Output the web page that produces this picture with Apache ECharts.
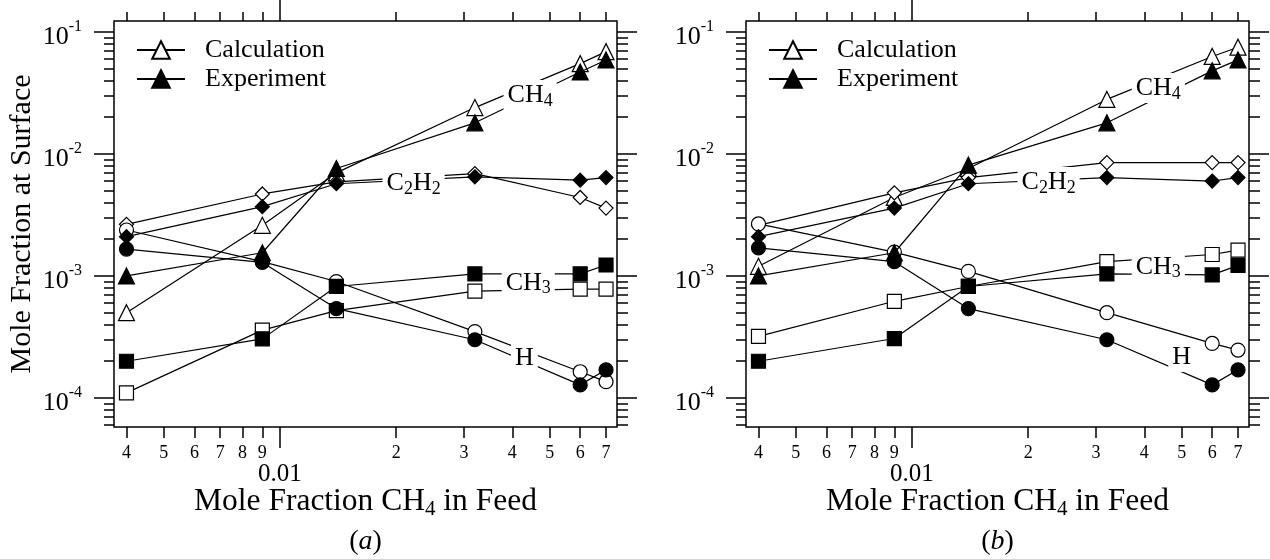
<!DOCTYPE html>
<html>
<head>
<meta charset="utf-8">
<title>Mole fraction at surface vs CH4 in feed</title>
<script src="https://cdn.jsdelivr.net/npm/echarts@6/dist/echarts.min.js"></script>
<style>
  html, body { margin: 0; padding: 0; background: #fff; }
  #main { width: 1270px; height: 559px; }
</style>
</head>
<body>
<div id="main"></div>
<script>
// mole fraction CH4 in feed (same runs in both panels)
const feedCH4 = [0.004, 0.009, 0.014, 0.032, 0.06, 0.07];

// panel (a)
const aCalcCH4  = [5.0e-4, 2.6e-3, 7.0e-3, 0.024, 0.055, 0.069];
const aExpCH4   = [1.0e-3, 1.55e-3, 7.6e-3, 0.018, 0.047, 0.059];
const aCalcC2H2 = [2.65e-3, 4.7e-3, 5.9e-3, 6.9e-3, 4.4e-3, 3.6e-3];
const aExpC2H2  = [2.1e-3, 3.7e-3, 5.7e-3, 6.5e-3, 6.1e-3, 6.4e-3];
const aCalcCH3  = [1.1e-4, 3.6e-4, 5.2e-4, 7.5e-4, 7.8e-4, 7.8e-4];
const aExpCH3   = [2.0e-4, 3.05e-4, 8.2e-4, 1.04e-3, 1.04e-3, 1.23e-3];
const aCalcH    = [2.38e-3, 1.31e-3, 9.0e-4, 3.5e-4, 1.64e-4, 1.36e-4];
const aExpH     = [1.66e-3, 1.29e-3, 5.4e-4, 3.0e-4, 1.28e-4, 1.7e-4];

// panel (b)
const bCalcCH4  = [1.2e-3, 4.4e-3, 7.6e-3, 0.028, 0.063, 0.075];
const bExpCH4   = [1.0e-3, 1.55e-3, 8.1e-3, 0.018, 0.048, 0.059];
const bCalcC2H2 = [2.6e-3, 4.8e-3, 6.4e-3, 8.5e-3, 8.5e-3, 8.5e-3];
const bExpC2H2  = [2.1e-3, 3.6e-3, 5.7e-3, 6.4e-3, 6.0e-3, 6.4e-3];
const bCalcCH3  = [3.2e-4, 6.2e-4, 8.2e-4, 1.31e-3, 1.5e-3, 1.63e-3];
const bExpCH3   = [2.0e-4, 3.07e-4, 8.2e-4, 1.04e-3, 1.02e-3, 1.22e-3];
const bCalcH    = [2.67e-3, 1.57e-3, 1.09e-3, 5.0e-4, 2.8e-4, 2.47e-4];
const bExpH     = [1.7e-3, 1.31e-3, 5.4e-4, 3.0e-4, 1.28e-4, 1.7e-4];

// species labels written on the plot, anchored in data space
const speciesLabels = ['CH{s|4}', 'C{s|2}H{s|2}', 'CH{s|3}', 'H'];
const aLabelX = [0.0445, 0.0222, 0.044, 0.043];
const aLabelY = [0.0305, 5.8e-3, 8.8e-4, 2.1e-4];
const bLabelX = [0.0435, 0.0226, 0.0435, 0.050];
const bLabelY = [0.0348, 5.9e-3, 1.19e-3, 2.17e-4];

// axes (log scales)
const xRange = [0.003713, 0.07474];
const yRange = [5.78e-5, 0.123];
const xMinorTicks  = [0.004, 0.005, 0.006, 0.007, 0.008, 0.009, 0.02, 0.03, 0.04, 0.05, 0.06, 0.07];
const xMinorLabels = ['4', '5', '6', '7', '8', '9', '2', '3', '4', '5', '6', '7'];
const xMajorTicks  = [0.01];
const xMajorLabels = ['0.01'];
const yMajorTicks  = [1e-4, 1e-3, 1e-2, 1e-1];
const yMajorLabels = ['-4', '-3', '-2', '-1'];
const yMinorTicks  = [6e-5, 7e-5, 8e-5, 9e-5,
  2e-4, 3e-4, 4e-4, 5e-4, 6e-4, 7e-4, 8e-4, 9e-4,
  2e-3, 3e-3, 4e-3, 5e-3, 6e-3, 7e-3, 8e-3, 9e-3,
  2e-2, 3e-2, 4e-2, 5e-2, 6e-2, 7e-2, 8e-2, 9e-2];

const FONT = 'Liberation Serif';
const lg = v => Math.log10(v);
const labelFor = (v, ticks, labels) => {
  const i = ticks.findIndex(t => Math.abs(lg(t) - v) < 1e-6);
  return i < 0 ? '' : labels[i];
};

const grids = [
  { left: 114, right: 653, top: 21, bottom: 132 },
  { left: 746, right: 21, top: 21, bottom: 132 }
];

const tickStyle = { color: '#000', width: 1.5 };

function makeXAxes(g) {
  const base = {
    gridIndex: g, type: 'value', min: lg(xRange[0]), max: lg(xRange[1]),
    splitLine: { show: false }, axisLine: { show: false, onZero: false }
  };
  return [
    Object.assign({}, base, {
      position: 'bottom',
      axisTick: { customValues: xMinorTicks.map(lg), length: 11, lineStyle: tickStyle },
      axisLabel: {
        customValues: xMinorTicks.map(lg), margin: 17,
        formatter: v => labelFor(v, xMinorTicks, xMinorLabels),
        fontFamily: FONT, fontSize: 18, color: '#000'
      },
      name: '{m|Mole Fraction CH}{s|4}{m| in Feed}',
      nameLocation: 'middle', nameGap: 57,
      nameTextStyle: {
        rich: {
          m: { fontFamily: FONT, fontSize: 31.5, lineHeight: 36, color: '#000' },
          s: { fontFamily: FONT, fontSize: 21, lineHeight: 20, verticalAlign: 'bottom', color: '#000' }
        }
      }
    }),
    Object.assign({}, base, {
      position: 'bottom',
      axisTick: { customValues: xMajorTicks.map(lg), length: 21, lineStyle: tickStyle },
      axisLabel: {
        customValues: xMajorTicks.map(lg), margin: 35,
        formatter: v => labelFor(v, xMajorTicks, xMajorLabels),
        fontFamily: FONT, fontSize: 25, color: '#000'
      }
    }),
    Object.assign({}, base, {
      position: 'top',
      axisTick: { customValues: xMinorTicks.map(lg), length: 9, lineStyle: tickStyle },
      axisLabel: { show: false }
    }),
    Object.assign({}, base, {
      position: 'top',
      axisTick: { customValues: xMajorTicks.map(lg), length: 21, lineStyle: tickStyle },
      axisLabel: { show: false }
    })
  ];
}

function makeYAxes(g) {
  const base = {
    gridIndex: g, type: 'value', min: lg(yRange[0]), max: lg(yRange[1]),
    splitLine: { show: false }, axisLine: { show: false, onZero: false }
  };
  const left = Object.assign({}, base, {
    position: 'left',
    axisTick: { customValues: yMajorTicks.map(lg), length: 20, lineStyle: tickStyle },
    axisLabel: {
      customValues: yMajorTicks.map(lg), margin: 32, padding: [10, 0, 0, 0],
      formatter: v => '{b|10}{e|' + labelFor(v, yMajorTicks, yMajorLabels) + '}',
      rich: {
        b: { fontFamily: FONT, fontSize: 26, lineHeight: 36, color: '#000' },
        e: { fontFamily: FONT, fontSize: 16, lineHeight: 16, verticalAlign: 'top', color: '#000' }
      }
    }
  });
  if (g === 0) {
    Object.assign(left, {
      name: 'Mole Fraction at Surface', nameLocation: 'middle', nameGap: 77,
      nameTextStyle: { fontFamily: FONT, fontSize: 30, color: '#000' }
    });
  }
  return [
    left,
    Object.assign({}, base, {
      position: 'left',
      axisTick: { customValues: yMinorTicks.map(lg), length: 10, lineStyle: tickStyle },
      axisLabel: { show: false }
    }),
    Object.assign({}, base, {
      position: 'right',
      axisTick: { customValues: yMajorTicks.map(lg), length: 20, lineStyle: tickStyle },
      axisLabel: { show: false }
    }),
    Object.assign({}, base, {
      position: 'right',
      axisTick: { customValues: yMinorTicks.map(lg), length: 11, lineStyle: tickStyle },
      axisLabel: { show: false }
    })
  ];
}

function curve(g, name, values, symbol, filled, size) {
  return {
    type: 'line', name: name, xAxisIndex: 4 * g, yAxisIndex: 4 * g,
    data: feedCH4.map((x, i) => [lg(x), lg(values[i])]),
    symbol: symbol, symbolSize: size, showSymbol: true,
    lineStyle: { color: '#000', width: 1.2 },
    itemStyle: { color: filled ? '#000' : '#fff', borderColor: '#000', borderWidth: 1.2 },
    emphasis: { disabled: true },
    z: filled ? 3 : 2
  };
}

const speciesRich = {
  m: { fontFamily: FONT, fontSize: 26, lineHeight: 30, color: '#000', textBorderWidth: 0 },
  s: { fontFamily: FONT, fontSize: 18, lineHeight: 22, verticalAlign: 'bottom', color: '#000', textBorderWidth: 0 }
};

function speciesText(g, xs, ys) {
  return {
    type: 'scatter', xAxisIndex: 4 * g, yAxisIndex: 4 * g,
    data: xs.map((x, i) => [lg(x), lg(ys[i])]),
    symbolSize: 2, itemStyle: { color: 'transparent' }, z: 10, silent: true,
    label: {
      show: true, position: 'inside', color: '#000', textBorderWidth: 0, opacity: 1,
      backgroundColor: '#fff', padding: [0, 4],
      formatter: p => '{m|' + speciesLabels[p.dataIndex].replace(/\{s\|(\d)\}/g, '}{s|$1}{m|') + '}',
      rich: speciesRich
    }
  };
}

function panelSeries(g, d) {
  return [
    curve(g, g === 0 ? 'Calculation' : 'Calc CH4 (b)', d.calcCH4, 'triangle', false, 16),
    curve(g, g === 0 ? 'Experiment' : 'Exp CH4 (b)', d.expCH4, 'triangle', true, 16),
    curve(g, 'Calc C2H2 ' + g, d.calcC2H2, 'diamond', false, 14),
    curve(g, 'Exp C2H2 ' + g, d.expC2H2, 'diamond', true, 14),
    curve(g, 'Calc CH3 ' + g, d.calcCH3, 'rect', false, 14),
    curve(g, 'Exp CH3 ' + g, d.expCH3, 'rect', true, 14),
    curve(g, 'Calc H ' + g, d.calcH, 'circle', false, 14),
    curve(g, 'Exp H ' + g, d.expH, 'circle', true, 14),
    speciesText(g, d.lx, d.ly)
  ];
}

const series = panelSeries(0, {
  calcCH4: aCalcCH4, expCH4: aExpCH4, calcC2H2: aCalcC2H2, expC2H2: aExpC2H2,
  calcCH3: aCalcCH3, expCH3: aExpCH3, calcH: aCalcH, expH: aExpH, lx: aLabelX, ly: aLabelY
}).concat(panelSeries(1, {
  calcCH4: bCalcCH4, expCH4: bExpCH4, calcC2H2: bCalcC2H2, expC2H2: bExpC2H2,
  calcCH3: bCalcCH3, expCH3: bExpCH3, calcH: bCalcH, expH: bExpH, lx: bLabelX, ly: bLabelY
}));

const legendBase = {
  data: ['Calculation', 'Experiment'], orient: 'vertical', top: 32,
  itemWidth: 48, itemHeight: 22, itemGap: 3, selectedMode: false,
  textStyle: { fontFamily: FONT, fontSize: 26, color: '#000', padding: [0, 0, 0, 15] }
};

let myChart = echarts.init(document.getElementById('main'), null, { renderer: 'canvas' });
let option = {
  animation: false,
  backgroundColor: '#fff',
  grid: grids.map(g => Object.assign({ show: true, borderColor: '#000', borderWidth: 1.5, backgroundColor: 'transparent' }, g)),
  xAxis: makeXAxes(0).concat(makeXAxes(1)),
  yAxis: makeYAxes(0).concat(makeYAxes(1)),
  legend: [
    Object.assign({ left: 131 }, legendBase),
    Object.assign({ left: 763 }, legendBase)
  ],
  graphic: [
    { type: 'text', x: 365.5, y: 542, style: { text: '{p|(}{i|a}{p|)}', align: 'center', verticalAlign: 'middle',
      rich: { p: { fontFamily: FONT, fontSize: 28, fill: '#000' }, i: { fontFamily: FONT, fontSize: 28, fontStyle: 'italic', fill: '#000' } } } },
    { type: 'text', x: 997.5, y: 542, style: { text: '{p|(}{i|b}{p|)}', align: 'center', verticalAlign: 'middle',
      rich: { p: { fontFamily: FONT, fontSize: 28, fill: '#000' }, i: { fontFamily: FONT, fontSize: 28, fontStyle: 'italic', fill: '#000' } } } }
  ],
  series: series
};
myChart.setOption(option);
</script>
</body>
</html>
